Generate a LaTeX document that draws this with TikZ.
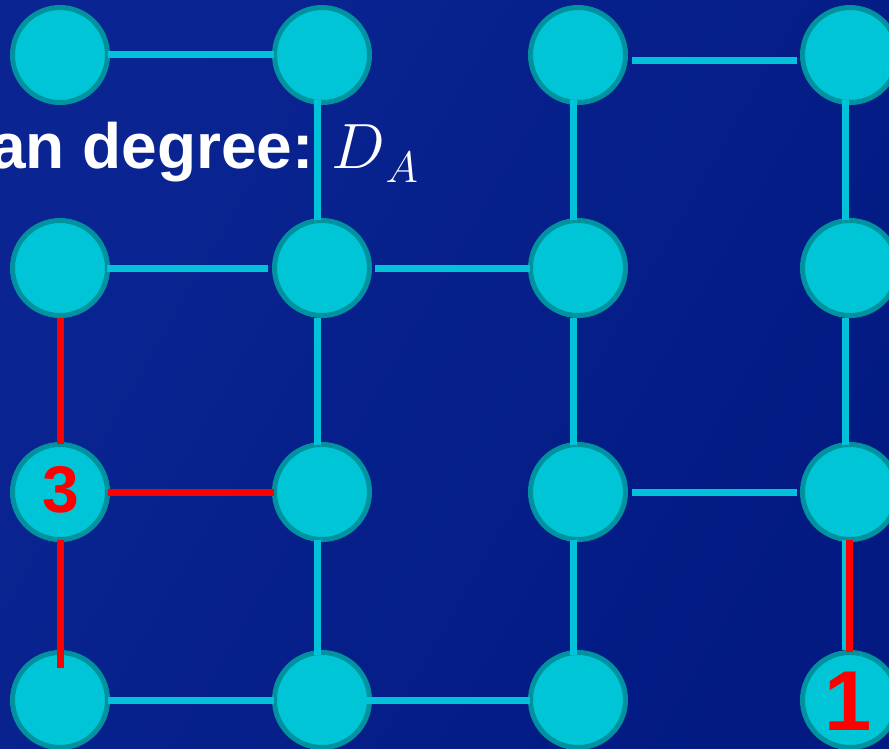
\RequirePackage{fix-cm}
\documentclass[tikz,border=0pt]{standalone}
\usepackage{fontspec}
\setmainfont{Liberation Sans}
\usetikzlibrary{calc}
\definecolor{bgA}{HTML}{0A2592}
\definecolor{bgB}{HTML}{021A82}
\definecolor{nodefill}{HTML}{00C5D7}
\definecolor{nodeline}{HTML}{00929E}
\definecolor{edgecyan}{HTML}{00C2D8}
\definecolor{edgered}{HTML}{FF0000}
\tikzset{
  vtx/.style={circle, fill=nodefill, draw=nodeline, line width=5pt, minimum size=95pt, inner sep=0pt},
  cedge/.style={edgecyan, line width=7pt},
  redge/.style={edgered, line width=7pt},
  lbl/.style={text=edgered, font=\bfseries}
}
\begin{document}
\begin{tikzpicture}[x=1pt,y=-1pt]
\useasboundingbox (0,0) rectangle (889,748);
\clip (0,0) rectangle (889,748);
\shade[left color=bgA, right color=bgB, shading angle=60] (0,0) rectangle (889,748);
% title text
\node[anchor=base west, inner sep=0pt, text=white, font=\fontsize{64}{76}\selectfont\bfseries] (title) at (-10,168) {an degree:\kern18pt\mdseries$D$\kern0pt\raisebox{-14pt}{\fontsize{44}{50}\selectfont$A$}};
% vertices
\node[vtx] (n11) at (60,55) {};
\node[vtx] (n12) at (322,55) {};
\node[vtx] (n13) at (578,55) {};
\node[vtx] (n14) at (850,55) {};
\node[vtx] (n21) at (60,268) {};
\node[vtx] (n22) at (322,268) {};
\node[vtx] (n23) at (578,268) {};
\node[vtx] (n24) at (850,268) {};
\node[vtx] (n31) at (60,492) {};
\node[vtx] (n32) at (322,492) {};
\node[vtx] (n33) at (578,492) {};
\node[vtx] (n34) at (850,492) {};
\node[vtx] (n41) at (60,700) {};
\node[vtx] (n42) at (322,700) {};
\node[vtx] (n43) at (578,700) {};
\node[vtx] (n44) at (850,700) {};
% cyan edges
\draw[cedge] ($(n11)+(48,-1)$) -- ($(n12)+(-48,-1)$);
\draw[cedge] ($(n12)+(-5,45)$) -- ($(n22)+(-5,-48)$);
\draw[cedge] ($(n21)+(47,0)$) -- ($(n22)+(-54,0)$);
\draw[cedge] ($(n22)+(53,0)$) -- ($(n23)+(-48,0)$);
\draw[cedge] ($(n13)+(54,5)$) -- ($(n14)+(-53,5)$);
\draw[cedge] ($(n13)+(-5,45)$) -- ($(n23)+(-5,-48)$);
\draw[cedge] ($(n14)+(-5,45)$) -- ($(n24)+(-5,-48)$);
\draw[cedge] ($(n22)+(-5,50)$) -- ($(n32)+(-5,-47)$);
\draw[cedge] ($(n32)+(-5,48)$) -- ($(n42)+(-5,-45)$);
\draw[cedge] ($(n41)+(48,0)$) -- ($(n42)+(-48,0)$);
\draw[cedge] ($(n42)+(43,0)$) -- ($(n43)+(-48,0)$);
\draw[cedge] ($(n23)+(-5,50)$) -- ($(n33)+(-5,-47)$);
\draw[cedge] ($(n33)+(-5,48)$) -- ($(n43)+(-5,-45)$);
\draw[cedge] ($(n33)+(54,0)$) -- ($(n34)+(-53,0)$);
\draw[cedge] ($(n24)+(-5,50)$) -- ($(n34)+(-5,-47)$);
\draw[cedge] ($(n34)+(-5,48)$) -- ($(n44)+(-5,-50)$);
% red edges
\draw[redge] ($(n21)+(0,50)$) -- ($(n31)+(0,-48)$);
\draw[redge] ($(n31)+(48,0)$) -- ($(n32)+(-48,0)$);
\draw[redge] ($(n31)+(0,48)$) -- ($(n41)+(0,-32)$);
\draw[redge] ($(n34)+(-0.5,48)$) -- ($(n44)+(-0.5,-48)$);
% labels
\node[lbl, font=\fontsize{66}{70}\selectfont\bfseries, anchor=center] (l3) at ($(n31)+(1,-2)$) {3};
\node[lbl, font=\fontsize{85}{90}\selectfont\bfseries, anchor=center] (l1) at ($(n44)+(-2,1)$) {1};
\end{tikzpicture}
\end{document}
